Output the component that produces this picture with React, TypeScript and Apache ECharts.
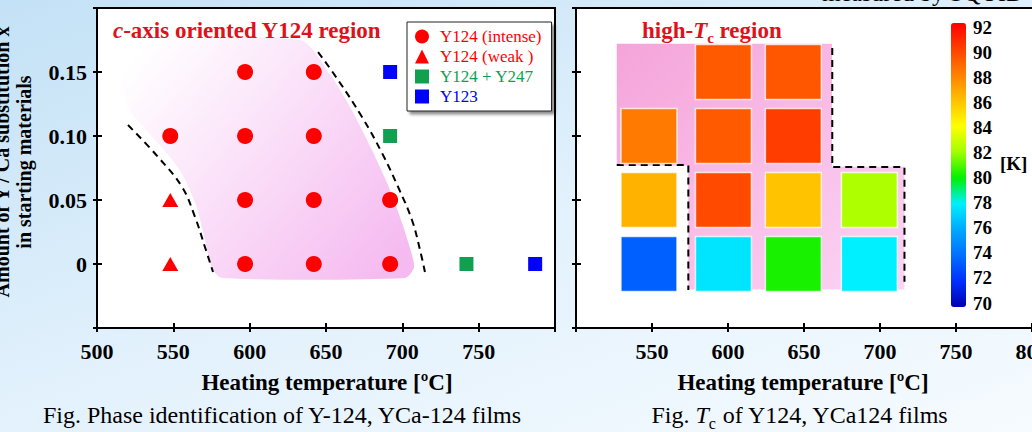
import React, { useEffect, useRef } from "react";
import * as echarts from "echarts";

const SERIF = "'Liberation Serif', 'Times New Roman', Times, serif";

// Phase identification: [heating temperature (ºC), Ca substitution x]
const intenseY124 = [
  [597, 0.15], [642, 0.15],
  [548, 0.1], [597, 0.1], [642, 0.1],
  [597, 0.05], [642, 0.05], [692, 0.05],
  [597, 0], [642, 0], [692, 0],
];
const weakY124 = [[548, 0.05], [548, 0]];
const y124y247 = [[692, 0.1], [742, 0]];
const y123 = [[692, 0.15], [787, 0]];

// Tc map (K) for each film: rows follow tcRows, columns follow tcTemps
const tcTemps = [548, 597, 643, 693];
const tcRows = [0.15, 0.1, 0.05, 0];
const tcValues = [
  [null, 89.2, 89.3, null],
  [88.2, 89.2, 90.1, null],
  [86.4, 89.7, 85.9, 82.3],
  [73.5, 77.7, 80.3, 78.0],
];
const tcMin = 70;
const tcMax = 92;
const tcPalette = [
  "#0000B0", "#0030FF", "#0070FF", "#00A8FF", "#00F0FF", "#00F000",
  "#A0FF00", "#FFFF00", "#FFC000", "#FF8000", "#FF4000", "#FF0000",
];

// Tick labels
const leftTempLabels = ["500", "550", "600", "650", "700", "750"];
const rightTempLabels = ["550", "600", "650", "700", "750", "800"];
const xLabels = ["0", "0.05", "0.10", "0.15"];

// c-axis oriented Y124 region (left) and its two boundaries
const leftRegion = [
  [518.3, 0.171], [633.0, 0.175], [652.6, 0.148], [667.0, 0.12], [680.1, 0.089],
  [691.9, 0.058], [700.4, 0.03], [706.3, 0.007], [707.6, -0.003], [701.7, -0.011],
  [581.9, -0.011], [575.3, -0.003], [570.7, 0.019], [564.8, 0.046], [554.4, 0.073],
  [538.0, 0.097], [521.6, 0.12], [515.1, 0.148],
];
const lowBoundary = [
  [520.3, 0.1086], [540.0, 0.0836], [555.7, 0.0602], [564.2, 0.0367], [570.7, 0.0133], [576.0, -0.0063],
];
const highBoundary = [
  [644.8, 0.1656], [657.9, 0.1438], [673.6, 0.1148], [686.7, 0.0867], [697.2, 0.0602],
  [706.3, 0.0344], [711.6, 0.0109], [714.8, -0.0063],
];

// high-Tc region (right) and its dashed edges
const highTcRegion = [
  [526.8, 0.172], [668.4, 0.172], [668.4, 0.076], [716.1, 0.076], [716.1, -0.02],
  [573.9, -0.02], [573.9, 0.077], [526.8, 0.077],
];
const highTcEdgeLeft = [[526.8, 0.0773], [573.9, 0.0773], [573.9, -0.0203]];
const highTcEdgeRight = [[668.6, 0.1688], [668.6, 0.0758], [716.1, 0.0758], [716.1, -0.0138]];

const tcCells: number[][] = [];
tcRows.forEach((row, r) => {
  tcTemps.forEach((t, c) => {
    const v = tcValues[r][c];
    if (v != null) tcCells.push([t, row, v]);
  });
});

const black = "#000";
const lineStyle = { color: black, width: 2 };
const boldLabel = { color: black, fontFamily: SERIF, fontWeight: "bold" as const, fontSize: 22 };

function xPair(gridIndex: number, max: number, labels: string[]) {
  return [
    {
      type: "value", gridIndex, min: 500, max, interval: 50, position: "bottom",
      axisLine: { show: true, onZero: false, lineStyle },
      axisTick: { show: true, length: 4, lineStyle },
      axisLabel: {
        ...boldLabel, margin: 12,
        formatter: (v: number) => (labels.includes(String(v)) ? String(v) : ""),
      },
      splitLine: { show: false },
    },
    {
      type: "value", gridIndex, min: 500, max, interval: 50, position: "bottom",
      axisLine: { show: false, onZero: false },
      axisTick: { show: true, inside: true, length: 5, lineStyle },
      axisLabel: { show: false },
      splitLine: { show: false },
    },
  ];
}

function yPair(gridIndex: number, showLabels: boolean) {
  const fmt = (v: number) => {
    const s = Math.abs(v) < 1e-9 ? "0" : v.toFixed(2);
    return xLabels.includes(s) ? s : "";
  };
  return [
    {
      type: "value", gridIndex, min: -0.05, max: 0.2, interval: 0.05, position: "left",
      axisLine: { show: true, onZero: false, lineStyle },
      axisTick: { show: true, length: 4, lineStyle },
      axisLabel: { show: showLabels, ...boldLabel, margin: 10, formatter: fmt },
      splitLine: { show: false },
    },
    {
      type: "value", gridIndex, min: -0.05, max: 0.2, interval: 0.05, position: "left",
      axisLine: { show: false, onZero: false },
      axisTick: { show: true, inside: true, length: 5, lineStyle },
      axisLabel: { show: false },
      splitLine: { show: false },
    },
  ];
}

function regionSeries(xAxisIndex: number, yAxisIndex: number, pts: number[][], fill: any, smooth: number) {
  return {
    type: "custom", xAxisIndex, yAxisIndex, z: 1, silent: true,
    data: [[600, 0]],
    renderItem: (_p: any, api: any) => ({
      type: "polygon",
      shape: { points: pts.map((p) => api.coord(p)), smooth },
      style: { fill },
    }),
  };
}

function dashSeries(xAxisIndex: number, yAxisIndex: number, pts: number[][], smooth: number) {
  return {
    type: "line", xAxisIndex, yAxisIndex, z: 3, silent: true,
    data: pts, showSymbol: false, symbol: "none", smooth,
    lineStyle: { color: black, width: 2, type: [7, 5] },
  };
}

function phaseSeries(name: string, data: number[][], symbol: string, size: any, color: string) {
  return {
    type: "scatter", name, xAxisIndex: 0, yAxisIndex: 0, z: 4,
    data, symbol, symbolSize: size, itemStyle: { color, opacity: 1 },
  };
}

const richText = (x: number, y: number, text: string, rich: any, align = "left") => ({
  type: "text", x, y, z: 10,
  style: { text, rich, align, verticalAlign: "top" },
});

function buildOption() {
  const red = "#E0101C";
  const boldTok = { fontFamily: SERIF, fontWeight: "bold", fontSize: 23, fill: red, verticalAlign: "top" };
  const leftFill = new echarts.graphic.LinearGradient(0, 0.15, 1, 0.85, [
    { offset: 0, color: "#FFFFFF" },
    { offset: 0.3, color: "#FCEBFB" },
    { offset: 1, color: "#F5BAF0" },
  ]);
  const rightFill = new echarts.graphic.LinearGradient(0, 0, 1, 1, [
    { offset: 0, color: "#F5A4D9" },
    { offset: 1, color: "#FBD5F5" },
  ]);
  const capTok = { fontFamily: SERIF, fontSize: 24, fill: black, verticalAlign: "top" };

  return {
    animation: false,
    grid: [
      { left: 97, top: 8, width: 458, height: 320, outerBoundsMode: "none", show: true, backgroundColor: "#fff", borderColor: black, borderWidth: 2 },
      { left: 576, top: 8, width: 532, height: 320, outerBoundsMode: "none", show: true, backgroundColor: "#fff", borderColor: black, borderWidth: 2 },
      { left: 951, top: 27, width: 15, height: 276, outerBoundsMode: "none", show: false },
    ],
    xAxis: [
      ...xPair(0, 800, leftTempLabels),
      ...xPair(1, 850, rightTempLabels),
      { type: "value", gridIndex: 2, show: false },
    ],
    yAxis: [
      ...yPair(0, true),
      ...yPair(1, false),
      {
        type: "value", gridIndex: 2, min: tcMin, max: tcMax, interval: 2, position: "right",
        axisLine: { show: false }, axisTick: { show: false }, splitLine: { show: false },
        axisLabel: { color: black, fontFamily: SERIF, fontWeight: "bold", fontSize: 19, margin: 7 },
      },
    ],
    legend: {
      orient: "vertical", left: 407, top: 22, padding: [6, 10, 6, 8], itemGap: 3,
      itemWidth: 14, itemHeight: 14, selectedMode: false,
      backgroundColor: "#fff", borderColor: "#222", borderWidth: 1,
      shadowColor: "rgba(0,0,0,0.45)", shadowBlur: 3, shadowOffsetX: 3, shadowOffsetY: 3,
      textStyle: { fontFamily: SERIF, fontSize: 17, padding: [0, 0, 0, 6] },
      data: [
        { name: "Y124 (intense)", icon: "circle", textStyle: { color: "#FF0000" } },
        { name: "Y124 (weak )", icon: "triangle", textStyle: { color: "#FF0000" } },
        { name: "Y124 + Y247", icon: "rect", textStyle: { color: "#10A050" } },
        { name: "Y123", icon: "rect", textStyle: { color: "#0000FF" } },
      ],
    },
    visualMap: {
      type: "continuous", seriesIndex: 10, dimension: 2, min: tcMin, max: tcMax,
      calculable: false, left: 951, top: 23, itemWidth: 15, itemHeight: 284, padding: 0,
      inRange: { color: tcPalette },
    },
    series: [
      regionSeries(0, 0, leftRegion, leftFill, 0.25),
      dashSeries(0, 0, lowBoundary, 0.4),
      dashSeries(0, 0, highBoundary, 0.4),
      phaseSeries("Y124 (intense)", intenseY124, "circle", 16, "#FF0000"),
      phaseSeries("Y124 (weak )", weakY124, "triangle", [16, 14], "#FF0000"),
      phaseSeries("Y124 + Y247", y124y247, "rect", 14, "#10A050"),
      phaseSeries("Y123", y123, "rect", 14, "#0000FF"),
      regionSeries(2, 2, highTcRegion, rightFill, 0),
      dashSeries(2, 2, highTcEdgeLeft, 0),
      dashSeries(2, 2, highTcEdgeRight, 0),
      {
        type: "scatter", name: "Tc", xAxisIndex: 2, yAxisIndex: 2, z: 4,
        data: tcCells, symbol: "rect", symbolSize: [56, 55],
        itemStyle: { opacity: 1, borderColor: "rgba(255,255,255,0.75)", borderWidth: 1.5 },
      },
    ],
    graphic: [
      richText(113, 19, "{i|c}{b|-axis oriented Y124 region}", {
        i: { ...boldTok, fontStyle: "italic" },
        b: boldTok,
      }),
      richText(642, 19, "{b|high-}{i|T}{s|c}{b| region}", {
        b: boldTok,
        i: { ...boldTok, fontStyle: "italic" },
        s: { ...boldTok, fontSize: 15, padding: [11, 0, 0, 0] },
      }),
      {
        type: "text", x: 13, y: 162, rotation: Math.PI / 2, z: 10,
        style: {
          text: "Amount of Y / Ca substitution x\nin starting materials",
          fill: black, font: `bold 20px ${SERIF}`, lineHeight: 22, align: "center", verticalAlign: "middle",
        },
      },
      {
        type: "text", x: 327, y: 382, z: 10,
        style: { text: "Heating temperature [ºC]", fill: black, font: `bold 23px ${SERIF}`, align: "center", verticalAlign: "middle" },
      },
      {
        type: "text", x: 803, y: 382, z: 10,
        style: { text: "Heating temperature [ºC]", fill: black, font: `bold 23px ${SERIF}`, align: "center", verticalAlign: "middle" },
      },
      {
        type: "text", x: 282, y: 415, z: 10,
        style: { text: "Fig. Phase identification of Y-124, YCa-124 films", fill: black, font: `24px ${SERIF}`, align: "center", verticalAlign: "middle" },
      },
      richText(800, 403, "{r|Fig. }{i|T}{s|c}{r| of Y124, YCa124 films}", {
        r: capTok,
        i: { ...capTok, fontStyle: "italic" },
        s: { ...capTok, fontSize: 16, padding: [12, 0, 0, 0] },
      }, "center"),
      {
        type: "text", x: 822, y: 5, z: 10,
        style: { text: "measured by SQUID", fill: black, font: `24px ${SERIF}`, align: "left", verticalAlign: "bottom" },
      },
      {
        type: "text", x: 1000, y: 163, z: 10,
        style: { text: "[K]", fill: black, font: `bold 19px ${SERIF}`, align: "left", verticalAlign: "middle" },
      },
    ],
  };
}

export default function App() {
  const ref = useRef<HTMLDivElement>(null);
  useEffect(() => {
    if (!ref.current) return;
    const chart = echarts.init(ref.current, null, { renderer: "svg" });
    chart.setOption(buildOption() as any);
    return () => chart.dispose();
  }, []);
  return (
    <div
      style={{
        position: "fixed", left: 0, top: 0, width: 1032, height: 432, overflow: "hidden",
        background: "linear-gradient(160deg, #C3E1F6 0%, #E2F1FC 50%, #F6FBFF 100%)",
      }}
    >
      <div ref={ref} style={{ width: 1032, height: 432 }} />
    </div>
  );
}
